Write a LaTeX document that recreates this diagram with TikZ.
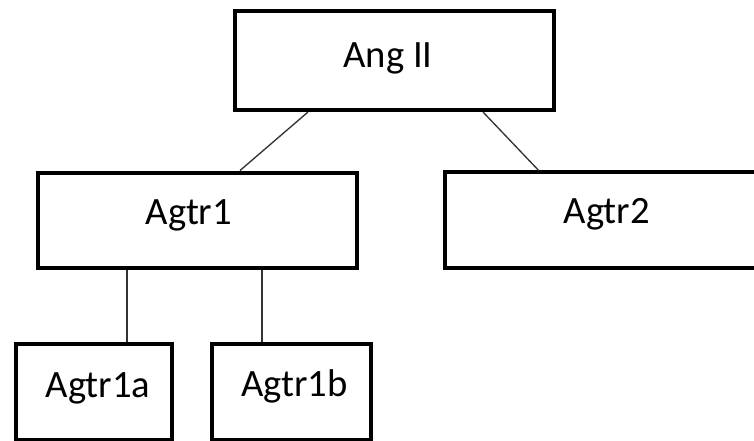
\documentclass[tikz,border=0pt]{standalone}
\usepackage{fontspec}
\setmainfont{Carlito}
\begin{document}
\begin{tikzpicture}[x=0.75pt,y=-0.75pt,
  box/.style={draw=black,line width=3pt,fill=white,inner sep=0pt},
  lbl/.style={anchor=base,inner sep=0pt,font=\fontsize{29}{34}\selectfont,text=black},
  conn/.style={draw=black!80,line width=1pt}]
\useasboundingbox[fill=white] (0,0) rectangle (754,440);
% boxes
\node[box,minimum width=239.6pt,minimum height=74.25pt] (ang) at (394.75,60.5) {};
\node[box,minimum width=239.25pt,minimum height=71.6pt] (a1) at (197.5,220.25) {};
\node[box,minimum width=239.25pt,minimum height=71.4pt] (a2) at (604.5,219.9) {};
\node[box,minimum width=117.5pt,minimum height=72pt] (a1a) at (94.15,391.5) {};
\node[box,minimum width=119.1pt,minimum height=72pt] (a1b) at (291.1,391.5) {};
% labels
\node[lbl] (tang) at (388,67) {Ang II};
\node[lbl] (ta1) at (189,224) {Agtr1};
\node[lbl] (ta2) at (606.7,223) {Agtr2};
\node[lbl] (ta1a) at (98,397) {Agtr1a};
\node[lbl] (ta1b) at (294.5,396.7) {Agtr1b};
% attachment columns
\coordinate (p1) at (308,0);
\coordinate (q1) at (240,0);
\coordinate (p2) at (483,0);
\coordinate (q2) at (538.5,0);
\coordinate (v1) at (127,0);
\coordinate (v2) at (262,0);
% connectors
\draw[conn] (ang.south -| p1) -- (a1.north -| q1);
\draw[conn] (ang.south -| p2) -- (a2.north -| q2);
\draw[conn] (a1.south -| v1) -- (a1a.north -| v1);
\draw[conn] (a1.south -| v2) -- (a1b.north -| v2);
\end{tikzpicture}
\end{document}
